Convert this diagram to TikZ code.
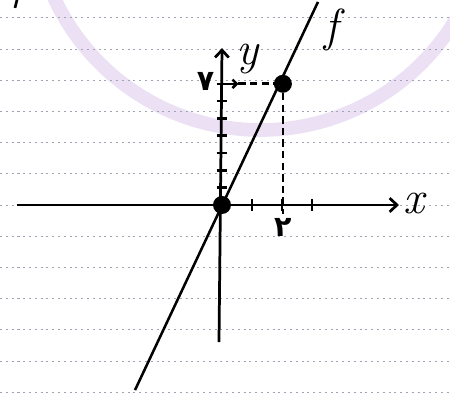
\documentclass[tikz,border=0pt]{standalone}
\usepackage{fontspec}
\newfontfamily\fafont[Script=Arabic]{DejaVu Sans}
\usetikzlibrary{arrows.meta}
\definecolor{stamp}{RGB}{236,224,245}
\definecolor{rule}{RGB}{160,165,180}
\tikzset{
  axis/.style={line width=2.6pt,-{Straight Barb[length=7pt,width=13pt]}},
  dot/.style={circle,fill=black,inner sep=0pt,minimum size=0.6cm},
  guide/.style={line width=2.5pt,dash pattern=on 7pt off 4pt},
  ruled/.style={rule,line width=0.8pt,dash pattern=on 2pt off 3.5pt},
  lbl/.style={font=\itshape\fontsize{44}{44}\selectfont},
  num/.style={font=\fafont\bfseries\fontsize{27}{27}\selectfont}
}
\begin{document}
\begin{tikzpicture}
  \useasboundingbox (-7.4,-6.4) rectangle (7.6,6.833);
  % paper
  \draw[stamp,line width=13pt] (1.29,10.08) circle (7.58);
  \foreach \k in {-6,...,6}
    \draw[ruled] (-7.4,1.04*\k) -- (7.6,1.04*\k);
  \draw[line width=2.5pt] (-6.83,6.85) -- (-6.9,6.57);

  % axes
  \coordinate (xl) at (-6.83,0);
  \coordinate (xr) at (5.9,0);
  \coordinate (yb) at (-0.1,-4.57);
  \coordinate (yt) at (0,5.23);
  \draw[axis] (xl) -- (xr);
  \draw[axis] (yb) -- (yt);
  \node[lbl] (xlab) at (6.4,0.05) {x};
  \node[lbl] (ylab) at (0.85,4.85) {y};

  % ticks
  \foreach \i in {1,2,3}
    \draw[line width=2.4pt] (\i,-0.2) -- (\i,0.2);
  \foreach \j in {1,...,7}
    \draw[line width=2.4pt] (-0.18,0.577*\j) -- (0.18,0.577*\j);

  % f
  \coordinate (fb) at (-2.9,-6.17);
  \coordinate (ft) at (3.2,6.77);
  \draw[line width=2.4pt] (fb) -- (ft);
  \node[lbl] (flab) at (3.65,5.85) {f};

  % points
  \node[dot] (O) at (0,0) {};
  \node[dot] (P) at (2.03,4.04) {};
  \coordinate (P7) at (0,4.04);
  \coordinate (P2) at (2.03,-0.3);
  \draw[line width=2.4pt,-{Straight Barb[length=4pt,width=8pt]}] (P7) -- ++(0.55,0) coordinate (a7);
  \draw[guide] (a7) -- (P);
  \draw[guide] (P) -- (P2);
  \node[num] (n7) at (-0.55,4.12) {۷};
  \node[num] (n2) at (2.03,-0.75) {۲};
\end{tikzpicture}
\end{document}
